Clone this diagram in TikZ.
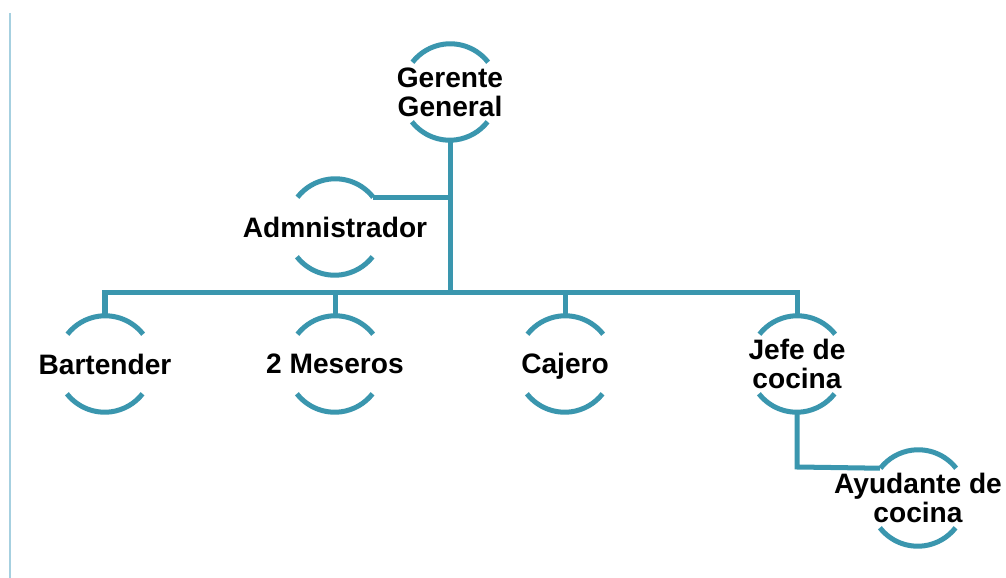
\documentclass[tikz,border=0pt]{standalone}
\usepackage{fontspec}
\setmainfont{Liberation Sans}
\usetikzlibrary{positioning, calc}
\definecolor{linkteal}{HTML}{3A96AE}
\definecolor{marginblue}{HTML}{A6D0E0}

\begin{document}
\begin{tikzpicture}[
      puesto/.style={circle, minimum size=1.92cm, inner sep=0pt,
        label={[align=center, font=\fontsize{16}{16.5}\selectfont\bfseries]center:#1}},
      arco/.style={draw=linkteal, line width=2.85pt},
      enlace/.style={draw=linkteal, line width=2.85pt}
    ]
      \useasboundingbox (0,0) rectangle (20.12,-11.56);
      \draw[marginblue, line width=0.6pt] (0.2,-0.26) -- (0.2,-11.56);

      \node[puesto={Gerente\\General}] (gerente) at (9.0,-1.84) {};
      \node[puesto={Admnistrador}] (admin) at (6.7,-4.54) {};
      \node[puesto={Bartender}] (bartender) at (2.1,-7.28) {};
      \node[puesto={2 Meseros}] (meseros) at (6.7,-7.28) {};
      \node[puesto={Ca\smash{j}ero}] (cajero) at (11.3,-7.28) {};
      \node[puesto={Jefe de\\cocina}] (jefe) at (15.94,-7.28) {};
      \node[puesto={Ayudante de\\cocina}] (ayudante) at (18.36,-9.96) {};
      \coordinate (bus) at (9.0,-5.86);
      \coordinate (codo) at (15.94,-9.34);

      \foreach \n in {gerente, admin, bartender, meseros, cajero, jefe, ayudante} {
        \draw[arco] (\n.38) arc[start angle=38, end angle=142, radius=0.96cm];
        \draw[arco] (\n.218) arc[start angle=218, end angle=322, radius=0.96cm];
      }

      \draw[enlace] (gerente.south) -- (bus);
      \draw[enlace] (admin.38) -| (gerente.south);
      \draw[enlace] (bartender.north) |- (bus) -| (jefe.north);
      \draw[enlace] (meseros.north) -- (meseros.north |- bus);
      \draw[enlace] (cajero.north) -- (cajero.north |- bus);
      \draw[enlace] (jefe.south) -- (codo) -- (ayudante.142);
    \end{tikzpicture}
\end{document}
